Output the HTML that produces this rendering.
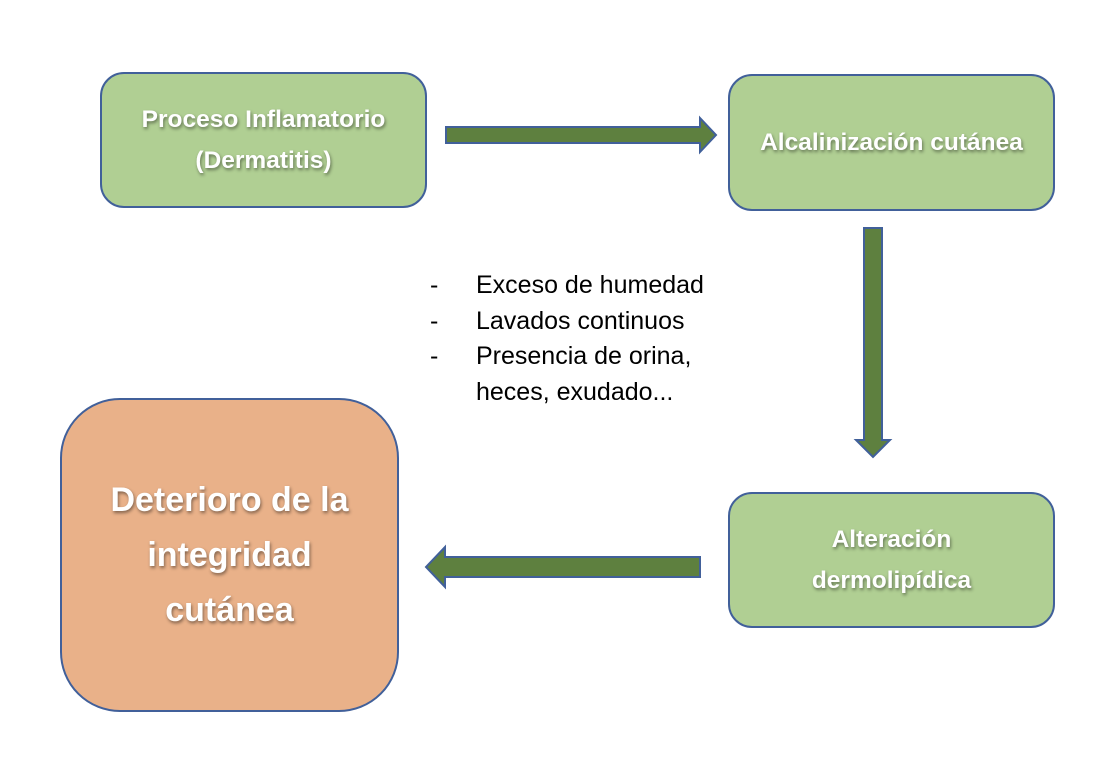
<!DOCTYPE html>
<html><head><style>
body{margin:0;width:1120px;height:776px;background:#fff;position:relative;font-family:"Liberation Sans",sans-serif;overflow:hidden}
.b{position:absolute;box-sizing:border-box;border:2px solid #41609a;background:#b0cf93;border-radius:24px;display:flex;align-items:center;justify-content:center;text-align:center;color:#fff;font-weight:bold;font-size:24.5px;line-height:41px;text-shadow:1px 2px 3px rgba(0,0,0,.45)}
.o{background:#e9b189;border-radius:60px;font-size:34px;line-height:55px}
.t{position:absolute;left:430px;top:268px;font-size:25px;line-height:35.5px;color:#000}
.t div{position:relative;padding-left:46px}
.t span{position:absolute;left:0}
</style></head><body>
<div class="b" style="left:100px;top:72px;width:327px;height:136px">Proceso Inflamatorio<br>(Dermatitis)</div>
<div class="b" style="left:728px;top:74px;width:327px;height:137px">Alcalinización cutánea</div>
<div class="b" style="left:728px;top:492px;width:327px;height:136px">Alteración<br>dermolipídica</div>
<div class="b o" style="left:60px;top:398px;width:339px;height:314px">Deterioro de la<br>integridad<br>cutánea</div>
<svg width="1120" height="776" style="position:absolute;left:0;top:0">
<g fill="#5e803f" stroke="#41609a" stroke-width="2">
<polygon points="446,127 700,127 700,118 716,135 700,152 700,143 446,143"/>
<polygon points="700,557 445,557 445,547 426,567 445,587 445,577 700,577"/>
<polygon points="864,228 882,228 882,440 890,440 873,457 856,440 864,440"/>
</g></svg>
<div class="t">
<div><span>-</span>Exceso de humedad</div>
<div><span>-</span>Lavados continuos</div>
<div><span>-</span>Presencia de orina,</div>
<div>heces, exudado...</div>
</div>
</body></html>
